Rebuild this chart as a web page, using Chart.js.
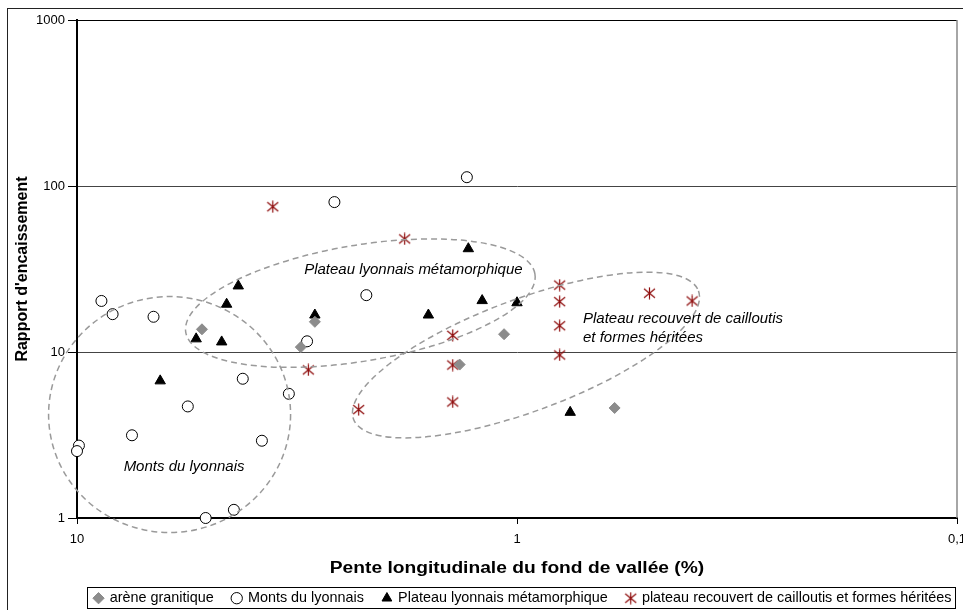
<!DOCTYPE html>
<html>
<head>
<meta charset="utf-8">
<script src="https://cdn.jsdelivr.net/npm/chart.js@4.4.1/dist/chart.umd.min.js"></script>
<style>
  html, body { margin: 0; padding: 0; background: #fff; overflow: hidden; }
  #wrap { width: 970px; height: 610px; }
</style>
</head>
<body>
<div id="wrap"><canvas id="chart" width="970" height="610"></canvas></div>
<script>
// slope of valley floor (%) and incision ratio
const areneSlope = [5.2, 3.1, 2.88, 1.07, 1.35, 0.6];
const areneRatio = [13.7, 10.7, 15.2, 12.8, 8.4, 4.6];

const montsSlope = [8.8, 8.3, 6.7, 3.0, 4.2, 3.3, 5.6, 7.5, 9.9, 10.0, 3.8, 5.1, 4.4, 1.3, 2.6, 2.2];
const montsRatio = [20.3, 16.9, 16.3, 11.6, 6.9, 5.6, 4.7, 3.15, 2.73, 2.53, 2.92, 1.0, 1.12, 113, 80, 22];

const metaSlope = [4.3, 4.57, 5.36, 4.69, 6.47, 2.88, 1.29, 1.2, 1.0, 1.59, 0.757];
const metaRatio = [25, 19.4, 12, 11.5, 6.7, 16.7, 41.9, 20.4, 19.8, 16.7, 4.33];

const recouvertSlope = [3.59, 1.8, 2.98, 2.29, 1.4, 1.4, 1.4, 0.8, 0.8, 0.8, 0.8, 0.5, 0.4];
const recouvertRatio = [75, 48, 7.8, 4.5, 12.6, 8.35, 5.0, 25.3, 20.1, 14.4, 9.6, 22.6, 20.3];

const seriesNames = ['arène granitique', 'Monts du lyonnais', 'Plateau lyonnais métamorphique',
  'plateau recouvert de cailloutis et formes héritées'];

const xTicks = [10, 1, 0.1];
const yTicks = [1, 10, 100, 1000];
const xTitle = 'Pente longitudinale du fond de vallée (%)';
const yTitle = "Rapport d'encaissement";

// dashed zones drawn around the groups (centre in data units)
const zones = [
  { x: 6.16, y: 4.2, rx: 121, ry: 118, rot: 0 },
  { x: 2.27, y: 19.7, rx: 177, ry: 58, rot: -9.5 },
  { x: 0.954, y: 9.59, rx: 184, ry: 56, rot: -20.4 }
];
const zoneLabels = [
  { text: ['Monts du lyonnais'], x: 5.71, y: 2.03, align: 'center' },
  { text: ['Plateau lyonnais métamorphique'], x: 1.72, y: 31.2, align: 'center' },
  { text: ['Plateau recouvert de cailloutis', 'et formes héritées'], x: 0.708, y: 15.8, align: 'left' }
];

const FONT = "'Liberation Sans', Arial, sans-serif";
const STAR_RED = '#8e0b0b';
const LEG_PAD = 19;

// little asterisk used for the last series
function makeStar(color) {
  const c = document.createElement('canvas');
  c.width = 13; c.height = 13;
  const g = c.getContext('2d');
  g.strokeStyle = color;
  g.lineWidth = 1.2;
  g.beginPath();
  g.moveTo(6.5, 0.5); g.lineTo(6.5, 12.5);
  g.moveTo(1, 2); g.lineTo(12, 11);
  g.moveTo(12, 2); g.lineTo(1, 11);
  g.stroke();
  return c;
}
const starImg = makeStar(STAR_RED);

const toPoints = (xs, ys) => xs.map((v, i) => ({ x: v, y: ys[i] }));

const frame = {
  id: 'frame',
  afterLayout(chart) {
    // put the legend where the original had it (under the plot, a bit to the right)
    const lg = chart.legend;
    if (!lg) return;
    lg.left = 66;
    lg.right = 980;
    lg.top = 591 - LEG_PAD;
  },
  beforeDraw(chart) {
    const ctx = chart.ctx;
    ctx.save();
    ctx.fillStyle = '#fff';
    ctx.fillRect(0, 0, chart.width, chart.height);
    ctx.strokeStyle = '#222';
    ctx.lineWidth = 1;
    ctx.strokeRect(7.5, 8.5, 2000, 2000);
    ctx.restore();
  },
  afterDraw(chart) {
    const { ctx, chartArea: a, legend } = chart;
    ctx.save();
    // top and right edge of plot area
    ctx.strokeStyle = '#000';
    ctx.lineWidth = 1;
    ctx.beginPath();
    ctx.moveTo(a.left, a.top + 0.5); ctx.lineTo(a.right, a.top + 0.5);
    ctx.stroke();
    ctx.strokeStyle = '#888';
    ctx.lineWidth = 1.5;
    ctx.beginPath();
    ctx.moveTo(a.right, a.top); ctx.lineTo(a.right, a.bottom);
    ctx.stroke();
    // x axis title, slightly widened like the source
    ctx.fillStyle = '#000';
    ctx.font = 'bold 16px ' + FONT;
    ctx.textAlign = 'center';
    ctx.textBaseline = 'middle';
    ctx.save();
    ctx.translate((a.left + a.right) / 2, 569);
    ctx.scale(1.2, 1);
    ctx.fillText(xTitle, 0, 0);
    ctx.restore();
    // box round the legend
    if (legend && legend.legendHitBoxes.length) {
      const hb = legend.legendHitBoxes;
      const l = Math.min(...hb.map(h => h.left)) - 8;
      const r = Math.max(...hb.map(h => h.left + h.width)) + 3;
      const t = Math.min(...hb.map(h => h.top)) - 4;
      const b = Math.max(...hb.map(h => h.top + h.height)) + 3;
      ctx.strokeStyle = '#000';
      ctx.lineWidth = 1;
      ctx.strokeRect(Math.round(l) + 0.5, Math.round(t) + 0.5, Math.round(r - l), Math.round(b - t));
    }
    ctx.restore();
  },
  afterDatasetsDraw(chart) {
    const { ctx, scales: { x, y } } = chart;
    ctx.save();
    ctx.strokeStyle = '#9a9a9a';
    ctx.lineWidth = 1.5;
    ctx.setLineDash([6, 4]);
    zones.forEach(z => {
      ctx.beginPath();
      ctx.ellipse(x.getPixelForValue(z.x), y.getPixelForValue(z.y), z.rx, z.ry,
        z.rot * Math.PI / 180, 0, 2 * Math.PI);
      ctx.stroke();
    });
    ctx.setLineDash([]);
    ctx.fillStyle = '#000';
    ctx.font = 'italic 15px ' + FONT;
    ctx.textBaseline = 'middle';
    zoneLabels.forEach(lb => {
      ctx.textAlign = lb.align;
      const px = x.getPixelForValue(lb.x);
      const py = y.getPixelForValue(lb.y);
      lb.text.forEach((line, i) => ctx.fillText(line, px, py + i * 19));
    });
    ctx.restore();
  }
};

new Chart(document.getElementById('chart'), {
  type: 'scatter',
  data: {
    datasets: [
      {
        label: seriesNames[0],
        data: toPoints(areneSlope, areneRatio),
        pointStyle: 'rectRot', pointRadius: 5.5,
        backgroundColor: '#8c8c8c', borderColor: '#8c8c8c', borderWidth: 1,
        clip: false
      },
      {
        label: seriesNames[1],
        data: toPoints(montsSlope, montsRatio),
        pointStyle: 'circle', pointRadius: 5.5,
        backgroundColor: '#fff', borderColor: '#000', borderWidth: 1,
        clip: false
      },
      {
        label: seriesNames[2],
        data: toPoints(metaSlope, metaRatio),
        pointStyle: 'triangle', pointRadius: 6,
        backgroundColor: '#000', borderColor: '#000', borderWidth: 1,
        clip: false
      },
      {
        label: seriesNames[3],
        data: toPoints(recouvertSlope, recouvertRatio),
        pointStyle: starImg, pointRadius: 6,
        backgroundColor: STAR_RED, borderColor: STAR_RED,
        clip: false
      }
    ]
  },
  options: {
    responsive: false,
    animation: false,
    layout: { padding: { top: 20, right: 13, left: 0, bottom: -13.4 } },
    plugins: {
      tooltip: { enabled: false },
      legend: {
        position: 'bottom',
        labels: {
          usePointStyle: true,
          boxWidth: 8, boxHeight: 8,
          padding: LEG_PAD,
          color: '#000',
          font: { family: FONT, size: 14.4 }
        }
      }
    },
    scales: {
      x: {
        type: 'logarithmic',
        reverse: true,
        min: 0.1, max: 10,
        afterBuildTicks: s => { s.ticks = xTicks.map(v => ({ value: v })); },
        afterFit: s => { s.height = 62; s.paddingRight = 0; s.paddingLeft = 0; },
        ticks: {
          color: '#000', padding: 8, maxRotation: 0, autoSkip: false,
          font: { family: FONT, size: 13 },
          callback: v => String(v).replace('.', ',')
        },
        grid: { drawOnChartArea: false, tickLength: 6, tickColor: '#000' },
        border: { color: '#000', width: 2 },
        title: { display: false }
      },
      y: {
        type: 'logarithmic',
        min: 1, max: 1000,
        afterBuildTicks: s => { s.ticks = yTicks.map(v => ({ value: v })); },
        afterFit: s => { s.width = 77; },
        ticks: {
          color: '#000', padding: 3, autoSkip: false,
          font: { family: FONT, size: 13 },
          callback: v => String(v)
        },
        grid: {
          tickLength: 9, tickColor: '#000',
          color: c => (c.tick && (c.tick.value === 10 || c.tick.value === 100)) ? '#444' : 'rgba(0,0,0,0)'
        },
        border: { color: '#000', width: 2 },
        title: {
          display: true,
          text: yTitle,
          color: '#000',
          font: { family: FONT, size: 16, weight: 'bold' },
          padding: { top: 13, bottom: 0 }
        }
      }
    }
  },
  plugins: [frame]
});
</script>
</body>
</html>
